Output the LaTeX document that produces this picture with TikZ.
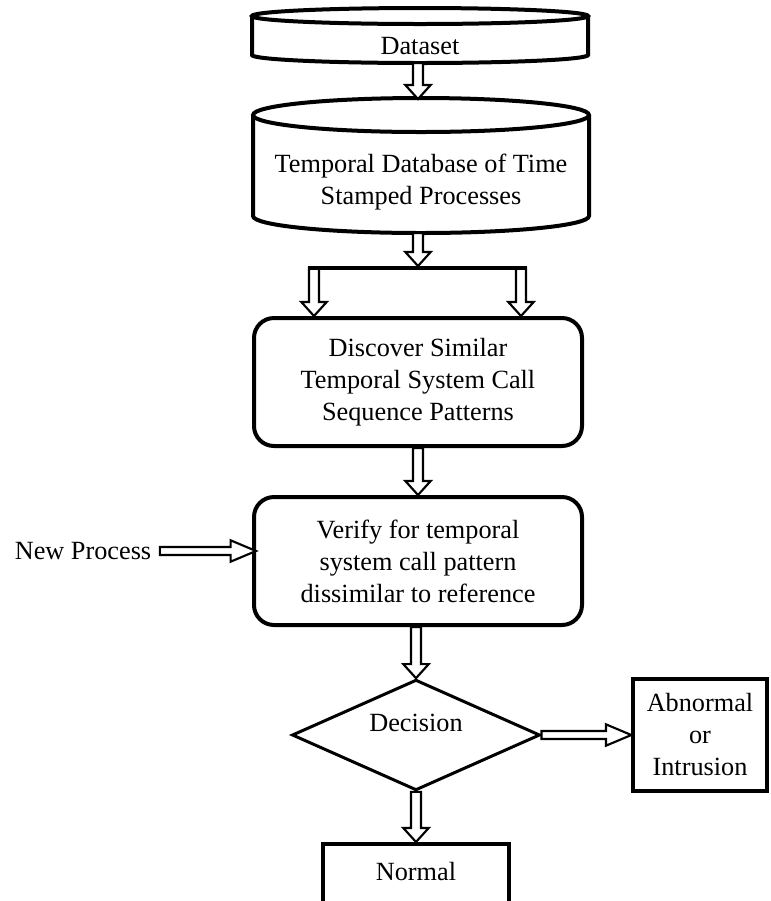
\documentclass[tikz,border=0pt]{standalone}
\usepackage{fontspec}
\setmainfont{Liberation Serif}
\usetikzlibrary{calc,shapes.geometric}

\tikzset{
  arrow dims/.code n args={3}{\def\shaftw{#1}\def\headw{#2}\def\headl{#3}},
  hollow/.style={draw, fill=white, line width=1.6pt, line join=miter,
    arrow dims={3.75pt}{9.5pt}{10.5pt},
    to path={let \p1=($(\tikztotarget)!\headl!(\tikztostart)$) in
      ($(\tikztostart)!\shaftw!90:(\tikztotarget)$)
      -- ($(\p1)!\shaftw!90:(\tikztotarget)$)
      -- ($(\p1)!\headw!90:(\tikztotarget)$)
      -- (\tikztotarget)
      -- ($(\p1)!\headw!-90:(\tikztotarget)$)
      -- ($(\p1)!\shaftw!-90:(\tikztotarget)$)
      -- ($(\tikztostart)!\shaftw!-90:(\tikztotarget)$)
      -- cycle}},
  long hollow/.style={hollow, arrow dims={3pt}{8pt}{19pt}},
  box/.style={draw, line width=3pt, align=center},
  procbox/.style={box, rounded corners=15pt, minimum width=246pt, minimum height=96pt},
}

\begin{document}
\begin{tikzpicture}[x=0.75pt,y=0.75pt,font=\fontsize{19.7}{24}\selectfont]
    \useasboundingbox (0,0) rectangle (771,-901);
    % database cylinders
    \draw[line width=3pt] (420,-16) ellipse[x radius=168, y radius=8];
    \draw[line width=3pt] (252,-16) -- (252,-55)
        arc[start angle=180, end angle=360, x radius=168, y radius=8] -- (588,-16);
    \draw[line width=3pt] (421,-115) ellipse[x radius=168, y radius=17];
    \draw[line width=3pt] (253,-115) -- (253,-216)
        arc[start angle=180, end angle=360, x radius=168, y radius=17] -- (589,-115);
    \node (data) at (420,-46) {Dataset};
    \node[align=center] (tdb) at (421,-182) {Temporal Database of Time\\Stamped Processes};
    \coordinate (data base) at (418,-63);
    \coordinate (tdb top) at (418,-99);
    \coordinate (tdb base) at (418,-233);
    \coordinate (fork) at (418,-266);
    \coordinate (forkL) at (314,-268);
    \coordinate (forkR) at (521,-268);
    % process boxes
    \node[procbox] (disc) at (418,-382) {Discover Similar\\Temporal System Call\\Sequence Patterns};
    \node[procbox] (verify) at (418,-561) {Verify for temporal\\system call pattern\\dissimilar to reference};
    \node (newp) at (83,-551) {New Process};
    \node[diamond, draw, line width=2.25pt, aspect=2.25, minimum width=186pt, minimum height=83pt,
        inner sep=0pt, text height=13pt, text depth=19pt] (dec) at (416,-735) {Decision};
    \node[box, minimum width=100pt, minimum height=84pt] (abn) at (700,-735) {Abnormal\\or\\Intrusion};
    \node[box, minimum width=139pt, anchor=north, inner ysep=0pt, text height=27pt,
        text depth=35pt] (normal) at (416,-842) {Normal};
    % connectors
    \draw[hollow] (data base) to (tdb top);
    \draw[hollow] (tdb base) to (fork);
    \draw[hollow] (forkL) to (forkL |- disc.north);
    \draw[hollow] (forkR) to (forkR |- disc.north);
    \draw[line width=3pt] ([xshift=-4.5pt]forkL) -- ([xshift=4.5pt]forkR);
    \draw[hollow] (disc.south) to (verify.north);
    \draw[long hollow] ([xshift=3pt]newp.east) to ([xshift=3pt]newp.east -| verify.west);
    \draw[hollow] (verify.south -| dec.north) to (dec.north);
    \draw[long hollow] (dec.east) to (abn.west);
    \draw[hollow] (dec.south) to (normal.north);
\end{tikzpicture}
\end{document}
